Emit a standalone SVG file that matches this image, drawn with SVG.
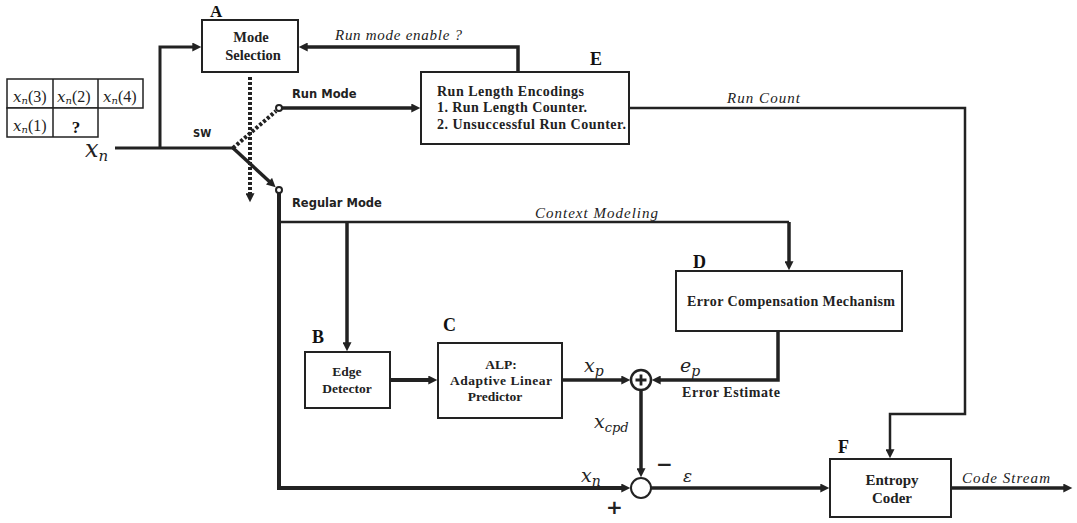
<svg xmlns="http://www.w3.org/2000/svg" width="1077" height="523" viewBox="0 0 1077 523">
<defs>
<marker id="ah" viewBox="0 0 10 10" refX="3" refY="5" markerWidth="10" markerHeight="9" markerUnits="userSpaceOnUse" orient="auto">
<path d="M0,0 L10,5 L0,10 z" fill="#222"/>
</marker>
<style>
.box{fill:#fff;stroke:#222;stroke-width:2}
.c{fill:none;stroke:#222;stroke-width:3.5}
.thin{fill:none;stroke:#222;stroke-width:2.5}
.dot{fill:none;stroke:#222;stroke-width:4;stroke-dasharray:3 2}
.bt{font-family:"Liberation Serif","Times New Roman",serif;font-weight:bold;fill:#222}
.lt{font-family:"Liberation Serif","Times New Roman",serif;font-weight:bold;fill:#111}
.it{font-family:"Liberation Serif","Times New Roman",serif;font-style:italic;fill:#222}
.st{font-family:"DejaVu Sans",Verdana,sans-serif;font-weight:bold;fill:#222}
.m{font-family:"DejaVu Serif","Liberation Serif",serif;font-style:italic;fill:#222}
.tb{font-family:"Liberation Serif","Times New Roman",serif;fill:#222}
</style>
</defs>
<rect width="1077" height="523" fill="#fff"/>

<g id="connectors">
<path class="c" d="M115,148 H233" style="stroke-width:3"/>
<path class="c" d="M160,148 V47 H195" style="stroke-width:3" marker-end="url(#ah)"/>
<path class="c" d="M233,148 L271,183" marker-end="url(#ah)"/>
<path class="dot" d="M233,148 L276,111"/>
<path class="dot" d="M250,77 V196" marker-end="url(#ah)"/>
<path class="c" d="M282,108 H414" marker-end="url(#ah)"/>
<path class="c" d="M518,72 V47 H305" marker-end="url(#ah)"/>
<path class="thin" d="M629,108 H965 V414 H890 V452" marker-end="url(#ah)"/>
<path class="c" d="M279,193 V488 H624" style="stroke-width:4" marker-end="url(#ah)"/>
<path class="thin" d="M279,222 H789"/>
<path class="c" d="M789,222 V264" marker-end="url(#ah)"/>
<path class="c" d="M347,222 V345" marker-end="url(#ah)"/>
<path class="c" d="M390,380 H431" style="stroke-width:4" marker-end="url(#ah)"/>
<path class="c" d="M562,380 H624" marker-end="url(#ah)"/>
<path class="c" d="M778,331 V380 H658" marker-end="url(#ah)"/>
<path class="c" d="M641,390 V471" marker-end="url(#ah)"/>
<path class="c" d="M651,488 H823" marker-end="url(#ah)"/>
<path class="c" d="M951,488 H1066" marker-end="url(#ah)"/>
<circle cx="279" cy="108" r="3" fill="#fff" stroke="#222" stroke-width="2"/>
<circle cx="279" cy="190" r="3" fill="#fff" stroke="#222" stroke-width="2"/>
</g>

<g id="table">
<rect x="7" y="79" width="136" height="29" fill="#fff" stroke="#222" stroke-width="1.5"/>
<rect x="7" y="108" width="91" height="29" fill="#fff" stroke="#222" stroke-width="1.5"/>
<path d="M53,79 V137 M98,79 V108" stroke="#222" stroke-width="1.5"/>
<g class="tb" style="font-size:16px">
<text x="13" y="102"><tspan class="m" style="font-size:15px">x</tspan><tspan class="m" style="font-size:10px" dy="2">n</tspan><tspan dy="-2">(3)</tspan></text>
<text x="57" y="102"><tspan class="m" style="font-size:15px">x</tspan><tspan class="m" style="font-size:10px" dy="2">n</tspan><tspan dy="-2">(2)</tspan></text>
<text x="103" y="102"><tspan class="m" style="font-size:15px">x</tspan><tspan class="m" style="font-size:10px" dy="2">n</tspan><tspan dy="-2">(4)</tspan></text>
<text x="13" y="131"><tspan class="m" style="font-size:15px">x</tspan><tspan class="m" style="font-size:10px" dy="2">n</tspan><tspan dy="-2">(1)</tspan></text>
</g>
<text class="lt" x="76" y="133" text-anchor="middle" style="font-size:17px">?</text>
</g>

<g id="nodeA">
<rect class="box" x="202" y="20" width="96" height="52"/>
<text class="lt" x="210" y="17" style="font-size:17px">A</text>
<text class="bt" x="251" y="42" text-anchor="middle" style="font-size:14.5px">Mode</text>
<text class="bt" x="253" y="60" text-anchor="middle" style="font-size:14.5px">Selection</text>
</g>

<g id="nodeE">
<rect class="box" x="421" y="72" width="208" height="72"/>
<text class="lt" x="590" y="65" style="font-size:18px">E</text>
<text class="bt" x="437" y="96" style="font-size:14px" textLength="147">Run Length Encodings</text>
<text class="bt" x="437" y="112" style="font-size:14px" textLength="150">1. Run Length Counter.</text>
<text class="bt" x="437" y="129" style="font-size:14px" textLength="189">2. Unsuccessful Run Counter.</text>
</g>

<g id="nodeD">
<rect class="box" x="676" y="271" width="226" height="60"/>
<text class="lt" x="693" y="268" style="font-size:18px">D</text>
<text class="bt" x="687" y="306" style="font-size:14px" textLength="208">Error Compensation Mechanism</text>
</g>

<g id="nodeB">
<rect class="box" x="305" y="352" width="85" height="56"/>
<text class="lt" x="312" y="343" style="font-size:18px">B</text>
<text class="bt" x="347" y="376" text-anchor="middle" style="font-size:13.5px">Edge</text>
<text class="bt" x="347" y="393" text-anchor="middle" style="font-size:13.5px">Detector</text>
</g>

<g id="nodeC">
<rect class="box" x="438" y="343" width="124" height="75"/>
<text class="lt" x="443" y="331" style="font-size:18px">C</text>
<text class="bt" x="501" y="369" text-anchor="middle" style="font-size:13.5px">ALP:</text>
<text class="bt" x="450" y="385" style="font-size:13.5px" textLength="102">Adaptive Linear</text>
<text class="bt" x="495" y="401" text-anchor="middle" style="font-size:13.5px">Predictor</text>
</g>

<g id="nodeF">
<rect class="box" x="830" y="459" width="121" height="58"/>
<text class="lt" x="838" y="453" style="font-size:18px">F</text>
<text class="bt" x="892" y="485" text-anchor="middle" style="font-size:15px">Entropy</text>
<text class="bt" x="892" y="503" text-anchor="middle" style="font-size:15px">Coder</text>
</g>

<g id="sum">
<circle cx="641" cy="380" r="10" fill="#fff" stroke="#222" stroke-width="2.5"/>
<path d="M635.5,380 H646.5 M641,374.5 V385.5" stroke="#222" stroke-width="2.8"/>
</g>
<g id="diff">
<circle cx="641" cy="488" r="10" fill="#fff" stroke="#222" stroke-width="2"/>
</g>

<g id="labels">
<text class="st" x="292" y="98" style="font-size:11.5px">Run Mode</text>
<text class="st" x="292" y="207" style="font-size:11.5px">Regular Mode</text>
<text class="st" x="193" y="137" style="font-size:10px">SW</text>
<text class="it" x="335" y="40" style="font-size:15px" textLength="127">Run mode enable ?</text>
<text class="it" x="727" y="103" style="font-size:15px" textLength="73">Run Count</text>
<text class="it" x="535" y="218" style="font-size:15px" textLength="123">Context Modeling</text>
<text class="it" x="962" y="483" style="font-size:15px" textLength="88">Code Stream</text>
<text class="bt" x="682" y="397" style="font-size:14px" textLength="98">Error Estimate</text>
<text class="m" x="85" y="157" style="font-size:24px">x<tspan style="font-size:15px" dy="4">n</tspan></text>
<text class="m" x="584" y="372" style="font-size:19px">x<tspan style="font-size:14px" dy="4">p</tspan></text>
<text class="m" x="680" y="372" style="font-size:19px">e<tspan style="font-size:14px" dy="4">p</tspan></text>
<text class="m" x="594" y="428" style="font-size:19px">x<tspan style="font-size:13px" dy="4">cpd</tspan></text>
<text class="m" x="581" y="482" style="font-size:19px">x<tspan style="font-size:14px" dy="4">n</tspan></text>
<text class="m" x="683" y="482" style="font-size:17px">ε</text>
<text class="st" x="656" y="471" style="font-size:20px">−</text>
<text class="st" x="606" y="514" style="font-size:20px">+</text>
</g>
</svg>
